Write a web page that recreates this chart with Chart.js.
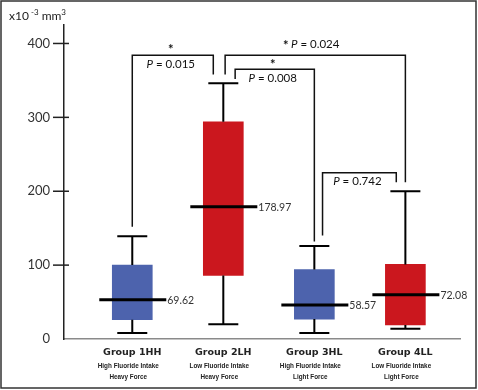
<!DOCTYPE html>
<html lang="en">
<head>
    <meta charset="UTF-8">
    <title>Fluoride intake and force box plot</title>
    <style>
        body { margin: 0; background: #fff; }
        #wrap { width: 478px; height: 390px; position: relative; }
    </style>
    <script src="https://cdn.jsdelivr.net/npm/chart.js"></script>
</head>
<body>
    <div id="wrap"><canvas id="boxChart"></canvas></div>

    <script>
        // groups and their two-line descriptions
        const groups = ['Group 1HH', 'Group 2LH', 'Group 3HL', 'Group 4LL'];
        const fluoride = ['High Fluoride Intake', 'Low Fluoride Intake', 'High Fluoride Intake', 'Low Fluoride Intake'];
        const force = ['Heavy Force', 'Heavy Force', 'Light Force', 'Light Force'];

        // box plot values (x10^-3 mm3)
        const minVals = [8, 20, 8, 14];
        const q1Vals = [26, 86, 27, 19];
        const medianVals = [53, 179, 46, 60];
        const q3Vals = [100, 294, 94, 101];
        const maxVals = [139, 346, 126, 200];
        const centreLabels = ['69.62', '178.97', '58.57', '72.08'];

        const yTicks = [0, 100, 200, 300, 400];

        // significance brackets: legs at x1 / x2 (group units), heights in data units
        const bracketX1 = [1, 2.02, 2.13, 3.09];
        const bracketX2 = [1.89, 4, 3, 3.9];
        const bracketLeft = [152, 358, 352, 140];
        const bracketTop = [384, 384, 365, 225];
        const bracketRight = [358, 212, 132, 212];
        const pValues = ['0.015', '0.024', '0.008', '0.742'];
        const starred = [true, true, true, false];
        const pInline = [false, true, false, false];

        const blue = '#4D63AD';
        const red = '#CB171E';
        const boxColors = [blue, red, blue, red];

        const boxPlugin = {
            id: 'boxPlugin',
            afterDatasetsDraw(chart) {
                const ctx = chart.ctx;
                const xs = chart.scales.x;
                const ys = chart.scales.y;
                ctx.save();
                ctx.strokeStyle = '#000';

                // whiskers + caps
                ctx.lineWidth = 2;
                groups.forEach((g, i) => {
                    const cx = xs.getPixelForValue(i + 1);
                    const pairs = [[q3Vals[i], maxVals[i]], [q1Vals[i], minVals[i]]];
                    pairs.forEach(([a, b]) => {
                        ctx.beginPath();
                        ctx.moveTo(cx, ys.getPixelForValue(a));
                        ctx.lineTo(cx, ys.getPixelForValue(b));
                        ctx.moveTo(cx - 15, ys.getPixelForValue(b));
                        ctx.lineTo(cx + 15, ys.getPixelForValue(b));
                        ctx.stroke();
                    });
                });

                // centre lines with their labels
                ctx.font = '10.5px Lato';
                ctx.fillStyle = '#333';
                ctx.textAlign = 'left';
                ctx.textBaseline = 'middle';
                groups.forEach((g, i) => {
                    const cx = xs.getPixelForValue(i + 1);
                    const y = ys.getPixelForValue(medianVals[i]);
                    ctx.lineWidth = 3;
                    ctx.beginPath();
                    ctx.moveTo(cx - 33, y);
                    ctx.lineTo(cx + 34, y);
                    ctx.stroke();
                    ctx.fillText(centreLabels[i], cx + 35, y + 0.5);
                });

                // significance brackets
                ctx.lineWidth = 1.5;
                ctx.strokeStyle = '#111';
                pValues.forEach((p, i) => {
                    const x1 = xs.getPixelForValue(bracketX1[i]);
                    const x2 = xs.getPixelForValue(bracketX2[i]);
                    const yt = ys.getPixelForValue(bracketTop[i]);
                    ctx.beginPath();
                    ctx.moveTo(x1, ys.getPixelForValue(bracketLeft[i]));
                    ctx.lineTo(x1, yt);
                    ctx.lineTo(x2, yt);
                    ctx.lineTo(x2, ys.getPixelForValue(bracketRight[i]));
                    ctx.stroke();

                    const mid = (x1 + x2) / 2;
                    const rest = ' = ' + p;
                    ctx.font = 'italic 11.5px Lato';
                    const wP = ctx.measureText('P').width;
                    ctx.font = '11.5px Lato';
                    const wR = ctx.measureText(rest).width;
                    const wS = pInline[i] ? 8 : 0;
                    const total = wS + wP + wR;
                    const ty = pInline[i] ? yt - 11 : yt + 9;
                    let tx = mid - total / 2 - (pInline[i] ? 4 : 2);
                    ctx.fillStyle = '#111';
                    ctx.textAlign = 'left';
                    if (pInline[i]) {
                        ctx.font = 'bold 13px Lato';
                        ctx.fillText('*', tx, ty + 2);
                        tx += wS;
                    } else if (starred[i]) {
                        ctx.font = 'bold 13px Lato';
                        ctx.textAlign = 'center';
                        ctx.fillText('*', mid - 2, yt - 5);
                        ctx.textAlign = 'left';
                    }
                    ctx.font = 'italic 11.5px Lato';
                    ctx.fillText('P', tx, ty);
                    ctx.font = '11.5px Lato';
                    ctx.fillText(rest, tx + wP, ty);
                });

                // y tick marks crossing the axis
                ctx.strokeStyle = '#222';
                ctx.lineWidth = 1.5;
                yTicks.forEach(v => {
                    if (v === 0) return;
                    const y = ys.getPixelForValue(v);
                    ctx.beginPath();
                    ctx.moveTo(xs.left - 11, y);
                    ctx.lineTo(xs.left + 5, y);
                    ctx.stroke();
                });

                // category labels
                ctx.fillStyle = '#222';
                ctx.textAlign = 'center';
                ctx.textBaseline = 'alphabetic';
                const subFont = 'bold 8px "Liberation Sans"';
                ctx.font = subFont;
                const squeeze = 61 / ctx.measureText(fluoride[0]).width;
                groups.forEach((g, i) => {
                    const cx = xs.getPixelForValue(i + 1);
                    ctx.font = 'bold 9.5px "DejaVu Sans"';
                    ctx.fillText(g, cx, 355);
                    ctx.font = subFont;
                    ctx.save();
                    ctx.translate(cx - 4, 0);
                    ctx.scale(squeeze, 1);
                    ctx.fillText(fluoride[i], 0, 368);
                    ctx.fillText(force[i], 0, 379);
                    ctx.restore();
                });

                // unit label top-left
                let ux = 9;
                const uy = 20;
                ctx.textAlign = 'left';
                ctx.fillStyle = '#222';
                const parts = [['x10', 12, 0], [' -3', 8, -5], [' mm', 12, 0], ['3', 8, -5]];
                parts.forEach(([t, size, dy]) => {
                    ctx.font = size + 'px Lato';
                    ctx.fillText(t, ux, uy + dy);
                    ux += ctx.measureText(t).width;
                });

                // frame round the whole figure
                ctx.strokeStyle = '#333';
                ctx.lineWidth = 1.5;
                ctx.strokeRect(1, 1, 475, 387);
                ctx.restore();
            }
        };

        const chart = new Chart(document.getElementById('boxChart'), {
            type: 'bar',
            data: {
                datasets: [{
                    data: groups.map((g, i) => ({ x: i + 1, y: [q1Vals[i], q3Vals[i]] })),
                    backgroundColor: boxColors,
                    borderWidth: 0,
                    barThickness: 40
                }]
            },
            options: {
                responsive: true,
                maintainAspectRatio: false,
                animation: false,
                layout: { padding: { top: 25, right: 18, left: 0, bottom: 0 } },
                plugins: {
                    legend: { display: false },
                    tooltip: { enabled: false }
                },
                scales: {
                    x: {
                        type: 'linear',
                        offset: false,
                        min: 0.25,
                        max: 4.6,
                        grid: { display: false, drawTicks: false },
                        border: { color: '#8a8a8a', width: 1.5 },
                        ticks: { display: false },
                        afterFit: s => { s.height = 51; }
                    },
                    y: {
                        min: 0,
                        max: 425,
                        grid: { display: false, drawTicks: false },
                        border: { color: '#222', width: 1.5 },
                        afterBuildTicks: s => { s.ticks = yTicks.map(v => ({ value: v })); },
                        ticks: {
                            padding: 14,
                            color: '#333',
                            font: { family: 'Lato', size: 13 }
                        },
                        afterFit: s => { s.width = 64; }
                    }
                }
            },
            plugins: [boxPlugin]
        });
    </script>
</body>
</html>
